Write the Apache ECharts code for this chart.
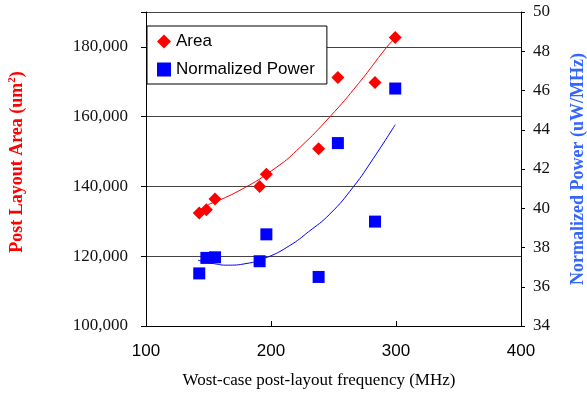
<!DOCTYPE html>
<html>
<head>
<meta charset="utf-8">
<script src="https://cdn.jsdelivr.net/npm/echarts@6/dist/echarts.min.js"></script>
<style>html,body{margin:0;padding:0;background:#fff;}#c{width:587px;height:393px;}</style>
</head>
<body>
<div id="c"></div>
<script>
// Data
var freq = [142.6, 148.3, 155.2, 190.9, 196.3, 238.1, 253.5, 283.2, 299.4];
var area = [132400, 133350, 136400, 140000, 143500, 150800, 171200, 169800, 182700];
var power = [36.68, 37.47, 37.5, 37.3, 38.67, 36.5, 43.32, 39.32, 46.1];

// Trend curves
var areaTrendFreq = [149.6, 175.2, 204.8, 223.2, 247.2, 270, 292.8, 300];
var areaTrend = [134790, 138900, 145600, 151200, 160000, 169500, 180000, 182800];
var powerTrendFreq = [141.6, 155, 165, 180, 197, 215, 230, 247, 266, 282, 299.4];
var powerTrend = [37.35, 37.17, 37.1, 37.18, 37.5, 38.1, 38.8, 39.7, 41.1, 42.55, 44.26];

var xTicks = [100, 200, 300, 400];
var leftTicks = [100000, 120000, 140000, 160000, 180000];
var rightTicks = [34, 36, 38, 40, 42, 44, 46, 48, 50];

function zip(a, b) { return a.map(function (v, i) { return [v, b[i]]; }); }

var chart = echarts.init(document.getElementById('c'));
chart.setOption({
  animation: false,
  backgroundColor: '#fff',
  grid: { left: 146, right: 66, top: 12, bottom: 67 },
  legend: {
    data: ['Area', 'Normalized Power'],
    orient: 'vertical',
    left: 147, top: 26,
    backgroundColor: '#fff',
    borderColor: '#000', borderWidth: 1, borderRadius: 0,
    padding: [7, 12, 6, 10],
    itemWidth: 14, itemHeight: 14, itemGap: 11,
    textStyle: { fontFamily: 'Liberation Sans', fontSize: 17, color: '#000' }
  },
  xAxis: {
    type: 'value', min: 100, max: 400, interval: 100,
    axisLine: { lineStyle: { color: '#000', width: 1 } },
    axisTick: { inside: true, length: 5, lineStyle: { color: '#000' } },
    axisLabel: { margin: 17, fontFamily: 'Liberation Sans', fontSize: 17, color: '#000',
      formatter: function (v) { return xTicks.indexOf(v) >= 0 ? String(v) : ''; } },
    splitLine: { show: false }
  },
  yAxis: [{
    type: 'value', min: 100000, max: 190000, interval: 20000, position: 'left',
    axisLine: { show: true, lineStyle: { color: '#000', width: 1 } },
    axisTick: { show: true, length: 5, lineStyle: { color: '#000' } },
    axisLabel: { margin: 18, fontFamily: 'Liberation Serif', fontSize: 17, color: '#111',
      formatter: function (v) { return leftTicks.indexOf(v) >= 0 ? v.toLocaleString('en-US') : ''; } },
    splitLine: { show: true, lineStyle: { color: '#444', width: 1 } }
  }, {
    type: 'value', min: 34, max: 50, interval: 2, position: 'right',
    axisLine: { show: true, lineStyle: { color: '#000', width: 1 } },
    axisTick: { show: true, length: 4, lineStyle: { color: '#000' } },
    axisLabel: { margin: 12, fontFamily: 'Liberation Serif', fontSize: 17, color: '#111',
      formatter: function (v) { return rightTicks.indexOf(v) >= 0 ? String(v) : ''; } },
    splitLine: { show: false }
  }],
  series: [{
    name: 'Area trend', type: 'line', yAxisIndex: 0, data: zip(areaTrendFreq, areaTrend),
    smooth: true, showSymbol: false, symbol: 'none', silent: true,
    lineStyle: { color: '#ff0000', width: 1 }, z: 2
  }, {
    name: 'Power trend', type: 'line', yAxisIndex: 1, data: zip(powerTrendFreq, powerTrend),
    smooth: true, showSymbol: false, symbol: 'none', silent: true,
    lineStyle: { color: '#0000ff', width: 1 }, z: 2
  }, {
    name: 'Area', type: 'scatter', yAxisIndex: 0, data: zip(freq, area),
    symbol: 'diamond', symbolSize: 13, itemStyle: { color: '#ff0000', opacity: 1 }, z: 3
  }, {
    name: 'Normalized Power', type: 'scatter', yAxisIndex: 1, data: zip(freq, power),
    symbol: 'rect', symbolSize: 12, itemStyle: { color: '#0000ff', opacity: 1 }, z: 3
  }],
  graphic: [{
    type: 'text', x: 17, y: 162, rotation: Math.PI / 2,
    style: {
      text: '{a|Post Layout Area (um}{s|2}{a|)}',
      align: 'center', verticalAlign: 'middle',
      rich: {
        a: { fontFamily: 'Liberation Serif', fontWeight: 'bold', fontSize: 18, fill: '#ff0000' },
        s: { fontFamily: 'Liberation Serif', fontWeight: 'bold', fontSize: 11, fill: '#ff0000', padding: [0, 0, 9, 0] }
      }
    }
  }, {
    type: 'text', x: 578, y: 169, rotation: Math.PI / 2,
    style: {
      text: 'Normalized Power (uW/MHz)', align: 'center', verticalAlign: 'middle',
      fontFamily: 'Liberation Serif', fontWeight: 'bold', fontSize: 18, fill: '#3366ff'
    }
  }, {
    type: 'text', x: 319, y: 381,
    style: {
      text: 'Wost-case post-layout frequency (MHz)', align: 'center', verticalAlign: 'middle',
      fontFamily: 'Liberation Serif', fontSize: 17, fill: '#000'
    }
  }]
});
</script>
</body>
</html>
